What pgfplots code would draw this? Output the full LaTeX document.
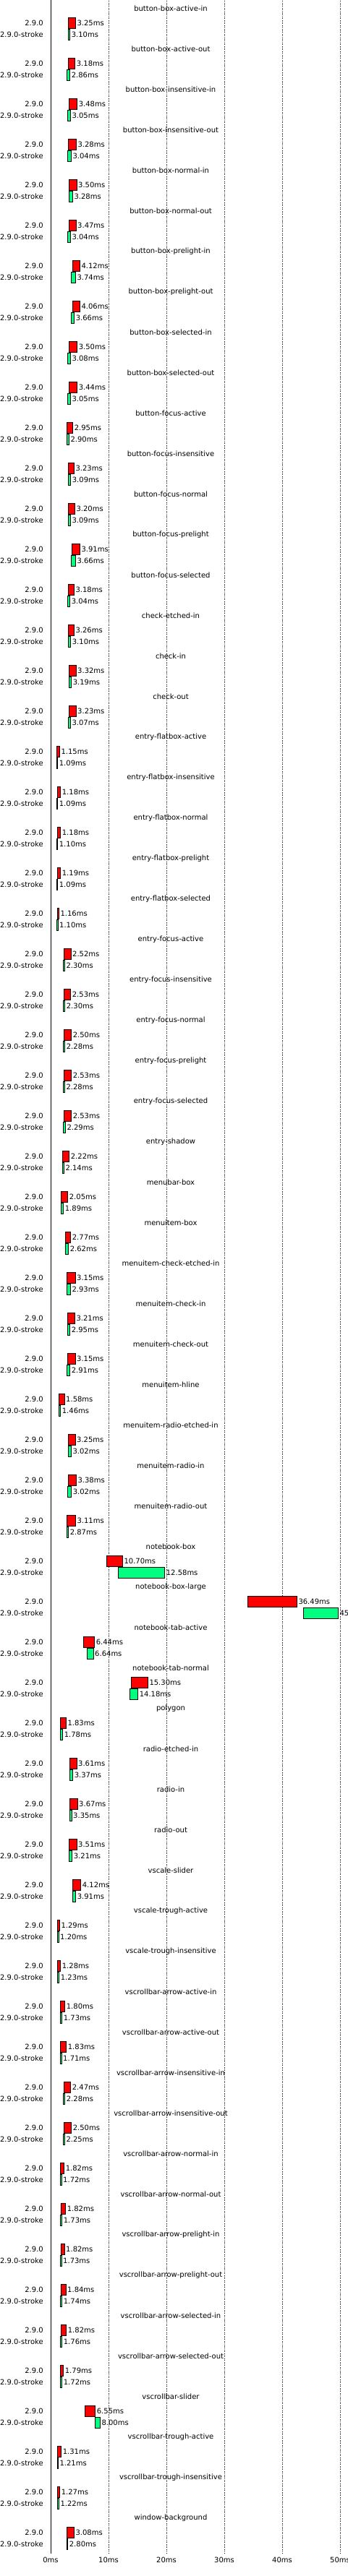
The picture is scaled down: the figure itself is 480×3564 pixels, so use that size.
\documentclass[border=0pt]{standalone}
\usepackage{pgfplots}
\pgfplotsset{compat=1.18}
\usepackage{pgfplotstable}
\usepackage{fontspec}
\setmainfont{DejaVu Sans}
\definecolor{sgreen}{RGB}{0,255,127}
\pgfplotstableread{
i name rlo rhi rv glo ghi gv
0 button-box-active-in 3.00 4.29 3.25 3.08 3.33 3.10
1 button-box-active-out 3.00 4.21 3.18 2.83 3.33 2.86
2 button-box-insensitive-in 3.17 4.58 3.48 2.96 3.42 3.05
3 button-box-insensitive-out 3.00 4.42 3.28 2.96 3.54 3.04
4 button-box-normal-in 3.17 4.50 3.50 3.21 3.79 3.28
5 button-box-normal-out 3.21 4.38 3.47 2.96 3.42 3.04
6 button-box-prelight-in 3.75 5.04 4.12 3.54 4.29 3.74
7 button-box-prelight-out 3.75 5.04 4.06 3.54 4.08 3.66
8 button-box-selected-in 3.21 4.58 3.50 2.96 3.42 3.08
9 button-box-selected-out 3.21 4.58 3.44 2.96 3.42 3.05
10 button-focus-active 2.79 3.83 2.95 2.83 3.17 2.90
11 button-focus-insensitive 3.04 4.04 3.23 3.04 3.46 3.09
12 button-focus-normal 3.04 4.17 3.20 3.04 3.42 3.09
13 button-focus-prelight 3.63 5.04 3.91 3.54 4.29 3.66
14 button-focus-selected 3.04 4.04 3.18 2.96 3.33 3.04
15 check-etched-in 3.08 4.04 3.26 3.08 3.46 3.10
16 check-in 3.21 4.38 3.32 3.17 3.58 3.19
17 check-out 3.17 4.38 3.23 3.04 3.42 3.07
18 entry-flatbox-active 1.08 1.54 1.15 1.04 1.21 1.09
19 entry-flatbox-insensitive 1.13 1.71 1.18 1.04 1.21 1.09
20 entry-flatbox-normal 1.13 1.71 1.18 1.04 1.21 1.10
21 entry-flatbox-prelight 1.13 1.71 1.19 1.04 1.21 1.09
22 entry-flatbox-selected 1.13 1.42 1.16 1.08 1.25 1.10
23 entry-focus-active 2.29 3.50 2.52 2.21 2.42 2.30
24 entry-focus-insensitive 2.29 3.46 2.53 2.21 2.46 2.30
25 entry-focus-normal 2.29 3.58 2.50 2.21 2.46 2.28
26 entry-focus-prelight 2.29 3.58 2.53 2.17 2.42 2.28
27 entry-focus-selected 2.29 3.58 2.53 2.21 2.54 2.29
28 entry-shadow 2.08 3.21 2.22 2.04 2.29 2.14
29 menubar-box 1.83 2.96 2.05 1.79 2.21 1.89
30 menuitem-box 2.54 3.46 2.77 2.50 3.08 2.62
31 menuitem-check-etched-in 2.83 4.25 3.15 2.83 3.42 2.93
32 menuitem-check-in 2.96 4.17 3.21 2.92 3.33 2.95
33 menuitem-check-out 2.88 4.25 3.15 2.83 3.33 2.91
34 menuitem-hline 1.46 2.38 1.58 1.42 1.71 1.46
35 menuitem-radio-etched-in 3.00 4.25 3.25 3.00 3.54 3.02
36 menuitem-radio-in 3.08 4.42 3.38 2.96 3.58 3.02
37 menuitem-radio-out 2.83 4.29 3.11 2.83 3.08 2.87
38 notebook-box 9.67 12.42 10.70 11.67 19.71 12.58
39 notebook-box-large 34.04 42.54 36.49 43.67 49.67 45.50
40 notebook-tab-active 5.71 7.58 6.44 6.25 7.38 6.64
41 notebook-tab-normal 13.96 16.79 15.30 13.63 15.08 14.18
42 polygon 1.71 2.67 1.83 1.71 2.08 1.78
43 radio-etched-in 3.33 4.50 3.61 3.33 3.83 3.37
44 radio-in 3.33 4.63 3.67 3.29 3.63 3.35
45 radio-out 3.21 4.50 3.51 3.17 3.71 3.21
46 vscale-slider 3.83 5.21 4.12 3.79 4.33 3.91
47 vscale-trough-active 1.17 1.54 1.29 1.17 1.38 1.20
48 vscale-trough-insensitive 1.17 1.71 1.28 1.17 1.46 1.23
49 vscrollbar-arrow-active-in 1.71 2.46 1.80 1.71 1.96 1.73
50 vscrollbar-arrow-active-out 1.71 2.71 1.83 1.67 1.88 1.71
51 vscrollbar-arrow-insensitive-in 2.33 3.46 2.47 2.21 2.46 2.28
52 vscrollbar-arrow-insensitive-out 2.33 3.58 2.50 2.17 2.42 2.25
53 vscrollbar-arrow-normal-in 1.71 2.33 1.82 1.71 1.88 1.72
54 vscrollbar-arrow-normal-out 1.75 2.58 1.82 1.67 1.96 1.73
55 vscrollbar-arrow-prelight-in 1.75 2.38 1.82 1.71 1.88 1.73
56 vscrollbar-arrow-prelight-out 1.75 2.63 1.84 1.67 1.96 1.74
57 vscrollbar-arrow-selected-in 1.79 2.71 1.82 1.71 1.96 1.76
58 vscrollbar-arrow-selected-out 1.71 2.21 1.79 1.67 1.96 1.72
59 vscrollbar-slider 5.92 7.71 6.55 7.71 8.54 8.00
60 vscrollbar-trough-active 1.21 1.83 1.31 1.13 1.29 1.21
61 vscrollbar-trough-insensitive 1.21 1.58 1.27 1.13 1.42 1.22
62 window-background 2.79 4.04 3.08 2.75 2.96 2.80
}\data
\pgfplotsset{
  base/.style={scale only axis, width=410pt, height=3532pt,
    xmin=0, xmax=51.25, ymin=0, ymax=3532, at={(0pt,0pt)}, anchor=south west,
    font=\fontsize{10pt}{12pt}\selectfont},
}
\begin{document}
\begin{tikzpicture}[font=\fontsize{10pt}{12pt}\selectfont]
\useasboundingbox (-70pt,-32pt) rectangle (410pt,3532pt);
% red bars, grid, axis
\begin{axis}[base, xbar stacked, bar width=15pt,
  axis y line*=left, axis x line*=bottom,
  x axis line style={draw=none}, y axis line style={black, line width=0.8pt},
  ytick=\empty, xtick={0,10,20,30,40,50},
  xticklabels={0ms,10ms,20ms,30ms,40ms,50ms},
  major tick length=0pt,
  xmajorgrids, grid style={black, dotted, line width=0.6pt},
  xticklabel style={yshift=-3pt, text=black}]
\addplot[draw=none, fill=none] table[x=rlo, y expr=3500-56*\thisrow{i}] {\data};
\addplot[fill=red, draw=black, line width=0.8pt] table[x expr=\thisrow{rhi}-\thisrow{rlo}, y expr=3500-56*\thisrow{i}] {\data};
\end{axis}
% green bars
\begin{axis}[base, xbar stacked, bar width=15pt, hide axis]
\addplot[draw=none, fill=none] table[x=glo, y expr=3484-56*\thisrow{i}] {\data};
\addplot[fill=sgreen, draw=black, line width=0.8pt] table[x expr=\thisrow{ghi}-\thisrow{glo}, y expr=3484-56*\thisrow{i}] {\data};
\end{axis}
% texts
\begin{axis}[base, hide axis, clip=false]
\addplot[draw=none, mark=none, point meta=explicit symbolic, nodes near coords,
  nodes near coords style={anchor=center, inner sep=0pt, text=black}]
  table[x expr=20.75, y expr=3520-56*\thisrow{i}, meta=name] {\data};
\addplot[draw=none, mark=none, nodes near coords={2.9.0},
  nodes near coords style={anchor=east, inner sep=0pt, text=black}]
  table[x expr=-1.25, y expr=3500-56*\thisrow{i}] {\data};
\addplot[draw=none, mark=none, nodes near coords={2.9.0-stroke},
  nodes near coords style={anchor=east, inner sep=0pt, text=black}]
  table[x expr=-1.25, y expr=3484-56*\thisrow{i}] {\data};
\addplot[draw=none, mark=none, point meta=explicit symbolic, nodes near coords={\pgfplotspointmeta ms},
  nodes near coords style={anchor=west, inner sep=0pt, xshift=2pt, text=black}]
  table[x=rhi, y expr=3500-56*\thisrow{i}, meta=rv] {\data};
\addplot[draw=none, mark=none, point meta=explicit symbolic, nodes near coords={\pgfplotspointmeta ms},
  nodes near coords style={anchor=west, inner sep=0pt, xshift=2pt, text=black}]
  table[x=ghi, y expr=3484-56*\thisrow{i}, meta=gv] {\data};
\end{axis}
\end{tikzpicture}
\end{document}
